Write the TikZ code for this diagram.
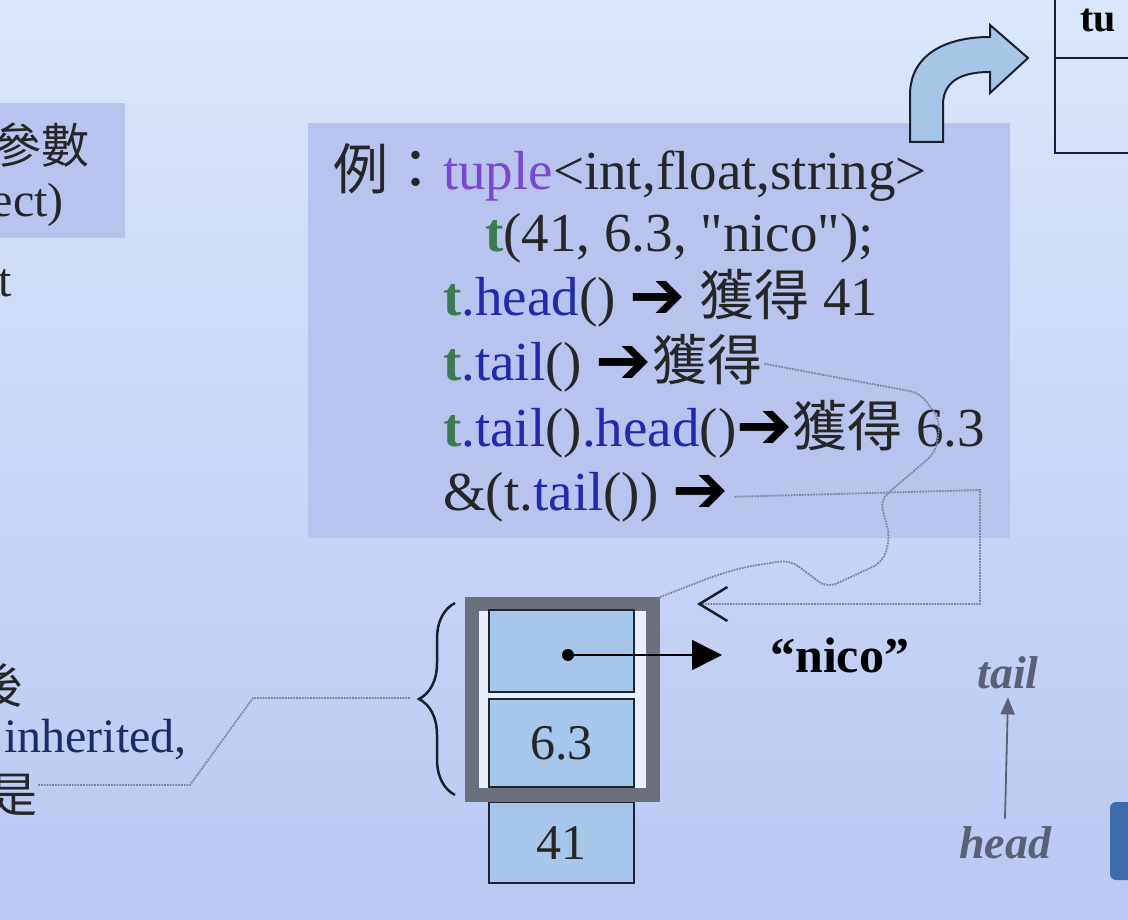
\documentclass[tikz,border=0pt]{standalone}
\usepackage{fontspec}
\setmainfont{Liberation Serif}
\newfontfamily\plainserif{Liberation Serif}
\newfontfamily\cjk{Noto Sans CJK TC}
\newfontfamily\dingsym{DejaVu Sans}
\usetikzlibrary{arrows.meta, positioning, calc, decorations.pathreplacing}
\definecolor{bgtop}{HTML}{DAE6F9}
\definecolor{bgbot}{HTML}{BAC8F3}
\definecolor{boxlav}{HTML}{B8C3EE}
\definecolor{inkgray}{HTML}{262626}
\definecolor{inkdark}{HTML}{1A1F2E}
\definecolor{tpurple}{HTML}{7D45D6}
\definecolor{tgreen}{HTML}{3B7D53}
\definecolor{mblue}{HTML}{2229B0}
\definecolor{cellfill}{HTML}{A7C7EA}
\definecolor{cellline}{HTML}{1E2430}
\definecolor{framegray}{HTML}{6B707C}
\definecolor{framewhite}{HTML}{E9F0FB}
\definecolor{dotgray}{HTML}{7C879E}
\definecolor{labelgray}{HTML}{5A6174}
\definecolor{navytext}{HTML}{1C2A66}
\definecolor{slideblue}{HTML}{3C6BAE}
\definecolor{arrowfill}{HTML}{A6C6E8}
\newcommand{\tvar}{{\color{tgreen}\bfseries t}}
\newcommand{\getarrow}{{\color{black}\dingsym\bfseries\raisebox{-0.05em}{\scalebox{1.22}{➔}}}}

\begin{document}
\begin{tikzpicture}[
    x=1pt, y=-1pt,
    code_text/.style={anchor=base west, inner sep=0pt, font=\fontsize{55}{64}\selectfont, text=inkgray},
    side_text/.style={inner sep=0pt, font=\fontsize{48}{58}\selectfont, text=inkgray},
    cell_node/.style={draw=cellline, line width=1.6pt, fill=cellfill, minimum width=145pt, inner sep=0pt, font=\fontsize{50}{60}\selectfont, text=inkgray},
    frame_node/.style={draw=framegray, line width=14pt, fill=framewhite, minimum width=181pt, minimum height=191pt},
    label_node/.style={inner sep=0pt, font=\fontsize{46}{56}\selectfont\bfseries\itshape, text=labelgray},
    dot_line/.style={densely dotted, line width=1.8pt, draw=dotgray},
    arrow/.style={-{Triangle[length=30pt, width=30pt]}, line width=1.6pt, draw=black}
]
\useasboundingbox (0,0) rectangle (1128,920);
\clip (0,0) rectangle (1128,920);
\shade[top color=bgtop, bottom color=bgbot] (0,0) rectangle (1128,920);

% boxes behind the text
\fill[boxlav] (-10,103) rectangle (125,238);
\fill[boxlav] (308,123) rectangle (1010,538);

% left column, cut by the slide edge
\node[side_text, anchor=east] (param) at (90,145) {\cjk 參數};
\node[side_text, anchor=east] (obj) at (64,205) {ect)};
\node[side_text, anchor=west] (tchar) at (-2,283) {t};
\node[side_text, anchor=east] (hou) at (24,685) {\cjk 後};
\node[side_text, anchor=west, text=navytext] (inh) at (4,740) {inherited,};
\node[side_text, anchor=east] (shi) at (38,795) {\cjk 是};

% top right table and bent arrow
\draw[line width=2pt, draw=inkdark] (1055,-5) -- (1055,153) -- (1140,153);
\draw[line width=2pt, draw=inkdark] (1055,58) -- (1140,58);
\node[inner sep=0pt, anchor=base west, font=\fontsize{40}{48}\selectfont\bfseries] (tuptitle) at (1080,32) {tu};
\filldraw[fill=arrowfill, draw=inkdark, line width=2pt]
    (910,142) -- (910,95) .. controls (910,55) and (945,37) .. (990,37)
    -- (990,25) -- (1028,58) -- (990,93) -- (990,72)
    .. controls (960,72) and (943,82) .. (943,105) -- (943,142) -- cycle;

% code lines
\node[code_text] (ex) at (333,190) {{\cjk 例：}{\color{tpurple}tuple}<int,float,string>};
\node[code_text] (ctor) at (485,252) {\tvar(41, 6.3, {\plainserif "nico"});};
\node[code_text] (gethead) at (443,316) {\tvar{\color{mblue}.head}() \getarrow{} {\cjk 獲得} 41};
\node[code_text] (gettail) at (443,381) {\tvar{\color{mblue}.tail}() \getarrow{\cjk 獲得}};
\node[code_text] (gettailhead) at (443,446) {\tvar{\color{mblue}.tail}(){\color{mblue}.head}()\getarrow{\cjk 獲得} 6.3};
\node[code_text] (addrtail) at (443,510) {\&(t.{\color{mblue}tail}()) \getarrow};

% memory layout
\node[cell_node, minimum height=81pt] (intcell) at (561.5,842.5) {41};
\node[frame_node] (tailbox) at (562.5,699.5) {};
\node[cell_node, minimum height=82pt] (ptrcell) at (561.5,651) {};
\node[cell_node, minimum height=88pt] (floatcell) at (561.5,743) {6.3};
\node[circle, fill=black, inner sep=0pt, minimum size=12pt] (ptrdot) at (568,655) {};
\coordinate (ptrend) at (722,655);
\node[inner sep=0pt, anchor=west, right=48pt of ptrend, font=\fontsize{50}{60}\selectfont\bfseries] (nico) {“nico”};
\draw[arrow] (ptrdot.center) -- (ptrend);

% brace
\draw[decorate, decoration={brace, amplitude=36pt}, line width=2.5pt, draw=inkdark] (455,795) -- (455,603);
\coordinate (bracetip) at (410,698);

% head / tail
\node[label_node] (tailtxt) at (1008,673) {tail};
\node[label_node] (headtxt) at (1005,843) {head};
\draw[-{Triangle[length=17pt, width=14pt]}, line width=1.8pt, draw=labelgray] ([yshift=8pt]headtxt.north) -- ([yshift=-8pt]tailtxt.south);

% slide corner
\fill[slideblue, rounded corners=6pt] (1110,802) rectangle (1150,880);

% dotted pointers
\coordinate (backtip) at (697,604);
\draw[dot_line, rounded corners=10pt] ([xshift=2pt]gettail.east) -- (920,393) -- (940,420) -- (936,452) -- (880,500) -- (890,537) -- (883,562) -- (827,588) -- (790,560) -- (745,567) -- (717,575) -- (tailbox.north east);
\draw[dot_line, -{Straight Barb[length=28pt, width=34pt, line width=2.5pt, color=inkdark]}] ([xshift=6pt]addrtail.east) -- (980,490) -- (980,604) -- (backtip);
\draw[dot_line] (bracetip) -- (253,698) -- (190,785) -- ([yshift=10pt]shi.east);

\end{tikzpicture}
\end{document}
